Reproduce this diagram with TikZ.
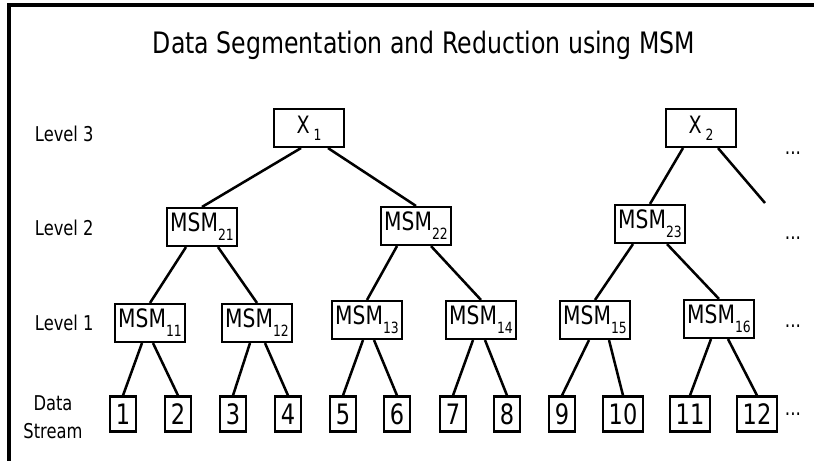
\documentclass[tikz,border=0pt]{standalone}
\usepackage{fontspec}
\setmainfont{DejaVu Sans}[FakeStretch=0.8]
\usetikzlibrary{calc}
\newcommand{\lowidx}[2]{\raisebox{-#1}{\fontsize{11}{11}\selectfont #2}}
\newcommand{\msmname}[1]{MSM\lowidx{6.5pt}{#1}}
\newcommand{\xname}[1]{X\,\lowidx{5pt}{#1}}

\begin{document}
\begin{tikzpicture}[x=0.025cm,y=-0.025cm,
		levelbox/.style={draw,line width=1.5pt,minimum width=1.75cm,minimum height=0.95cm,inner sep=0pt,font=\fontsize{18}{18}\selectfont},
		topbox/.style={levelbox,font=\fontsize{17}{17}\selectfont},
		databox/.style={draw,line width=1.5pt,minimum width=0.65cm,minimum height=0.875cm,inner xsep=4pt,inner ysep=0pt,font=\fontsize{20}{20}\selectfont},
		levellabel/.style={anchor=west,font=\fontsize{14.5}{14.5}\selectfont},
		more/.style={anchor=base,font=\fontsize{15}{15}\selectfont},
		link/.style={line width=1.8pt}]
				%%%%% START %%%%%
				\def\ythree{128}
				\def\ydata{414}
				\def\xmore{793}
				
				\useasboundingbox (0,0) rectangle (814,461);
				\draw[line width=2.2pt] (814,5) -- (9,5) -- (9,461);
				
				\node[anchor=base,font=\fontsize{21}{21}\selectfont] (title) at (424,53) {Data Segmentation and Reduction using MSM};
				
				\node[levellabel] (lthree) at (30,134) {Level 3};
				\node[levellabel] (ltwo) at (30,228) {Level 2};
				\node[levellabel] (lone) at (30,323) {Level 1};
				\node[font=\fontsize{14.5}{20}\selectfont,align=center] (ldata) at (53,417) {Data\\Stream};
				
				\node[topbox] (x1) at (309,\ythree) {\xname{1}};
				\node[topbox] (x2) at (701,\ythree) {\xname{2}};
				
				\node[levelbox] (m21) at (202,227) {\msmname{21}};
				\node[levelbox] (m22) at (416,226) {\msmname{22}};
				\node[levelbox] (m23) at (650,224) {\msmname{23}};
				
				\node[levelbox] (m11) at (150,323) {\msmname{11}};
				\node[levelbox] (m12) at (257,323) {\msmname{12}};
				\node[levelbox] (m13) at (367,320) {\msmname{13}};
				\node[levelbox] (m14) at (481,320) {\msmname{14}};
				\node[levelbox] (m15) at (595,320) {\msmname{15}};
				\node[levelbox] (m16) at (719,319) {\msmname{16}};
				
				\node[databox] (d1) at (123,\ydata) {1};
				\node[databox] (d2) at (178,\ydata) {2};
				\node[databox] (d3) at (233,\ydata) {3};
				\node[databox] (d4) at (288,\ydata) {4};
				\node[databox] (d5) at (343,\ydata) {5};
				\node[databox] (d6) at (397,\ydata) {6};
				\node[databox] (d7) at (453,\ydata) {7};
				\node[databox] (d8) at (507,\ydata) {8};
				\node[databox] (d9) at (562,\ydata) {9};
				\node[databox] (d10) at (623,\ydata) {10};
				\node[databox] (d11) at (690,\ydata) {11};
				\node[databox] (d12) at (757,\ydata) {12};
				
				\node[more] (morethree) at (\xmore,154) {...};
				\node[more] (moretwo) at (\xmore,239) {...};
				\node[more] (moreone) at (\xmore,327) {...};
				\node[more] (moredata) at (\xmore,415) {...};
				
				\coordinate (open) at (765,203);
				
				\draw[link] ($(x1.south)+(-8,0)$) -- (m21.north);
				\draw[link] ($(x1.south)+(19,0)$) -- (m22.north);
				\draw[link] ($(x2.south)+(-18,0)$) -- (m23.north);
				\draw[link] ($(x2.south)+(17,0)$) -- (open);
				
				\draw[link] ($(m21.south)+(-16,0)$) -- (m11.north);
				\draw[link] ($(m21.south)+(16,0)$) -- (m12.north);
				\draw[link] ($(m22.south)+(-19,0)$) -- (m13.north);
				\draw[link] ($(m22.south)+(15,0)$) -- (m14.north);
				\draw[link] ($(m23.south)+(-17,0)$) -- (m15.north);
				\draw[link] ($(m23.south)+(17,0)$) -- (m16.north);
				
				\draw[link] ($(m11.south)+(-8,0)$) -- (d1.north);
				\draw[link] ($(m11.south)+(3,0)$) -- (d2.north);
				\draw[link] ($(m12.south)+(-7,0)$) -- (d3.north);
				\draw[link] ($(m12.south)+(8,0)$) -- (d4.north);
				\draw[link] ($(m13.south)+(-4,0)$) -- (d5.north);
				\draw[link] ($(m13.south)+(7,0)$) -- (d6.north);
				\draw[link] ($(m14.south)+(-8,0)$) -- (d7.north);
				\draw[link] ($(m14.south)+(4,0)$) -- (d8.north);
				\draw[link] ($(m15.south)+(-6,0)$) -- (d9.north);
				\draw[link] ($(m15.south)+(14,0)$) -- (d10.north);
				\draw[link] ($(m16.south)+(-8,0)$) -- (d11.north);
				\draw[link] ($(m16.south)+(9,0)$) -- (d12.north);
				%%%%% END %%%%%
\end{tikzpicture}
\end{document}
